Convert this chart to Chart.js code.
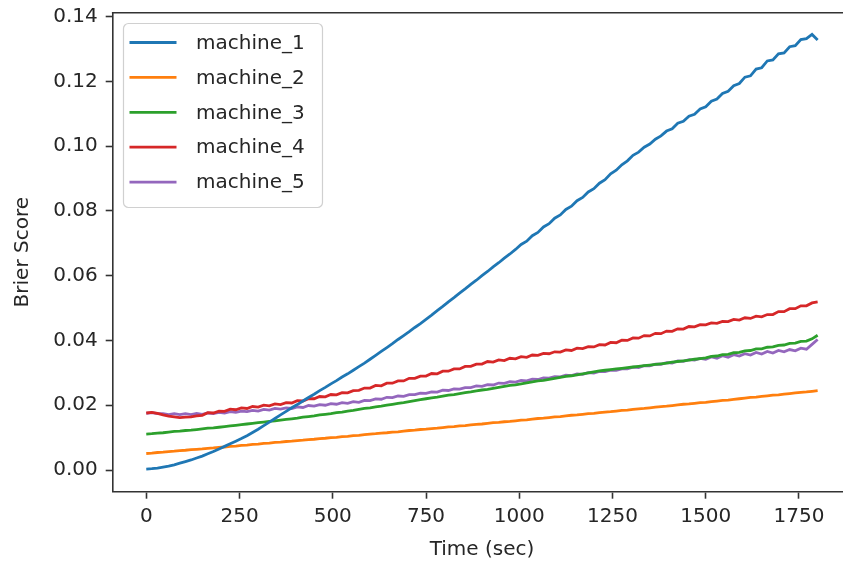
<!DOCTYPE html>
<html>
<head>
<meta charset="utf-8">
<script src="https://cdn.jsdelivr.net/npm/chart.js@4/dist/chart.umd.min.js"></script>
<style>
  html, body { margin: 0; padding: 0; background: #fff; overflow: hidden; }
  #wrap { width: 860px; height: 567px; }
</style>
</head>
<body>
<div id="wrap"><canvas id="c" width="860" height="567"></canvas></div>
<script>
// Elapsed time of each sample, in seconds
const times = [0,15,30,45,60,75,90,105,120,135,150,165,180,195,210,225,240,255,270,285,
  300,315,330,345,360,375,390,405,420,435,450,465,480,495,510,525,540,555,570,585,
  600,615,630,645,660,675,690,705,720,735,750,765,780,795,810,825,840,855,870,885,
  900,915,930,945,960,975,990,1005,1020,1035,1050,1065,1080,1095,1110,1125,1140,1155,1170,1185,
  1200,1215,1230,1245,1260,1275,1290,1305,1320,1335,1350,1365,1380,1395,1410,1425,1440,1455,1470,1485,
  1500,1515,1530,1545,1560,1575,1590,1605,1620,1635,1650,1665,1680,1695,1710,1725,1740,1755,1770,1785,
  1800];

// Brier score per machine
const machine1 = [0.0003,0.0004,0.0006,0.0009,0.0012,0.0016,0.0021,0.0026,0.0031,0.0037,
  0.0043,0.0050,0.0057,0.0065,0.0073,0.0081,0.0089,0.0097,0.0106,0.0116,
  0.0126,0.0137,0.0148,0.0159,0.0170,0.0181,0.0192,0.0202,0.0213,0.0224,
  0.0234,0.0245,0.0255,0.0266,0.0276,0.0287,0.0297,0.0308,0.0319,0.0330,
  0.0342,0.0354,0.0366,0.0378,0.0390,0.0403,0.0415,0.0427,0.0440,0.0452,
  0.0465,0.0478,0.0492,0.0505,0.0519,0.0532,0.0546,0.0559,0.0573,0.0586,
  0.0600,0.0613,0.0627,0.0640,0.0654,0.0667,0.0681,0.06965,0.07065,0.07235,
  0.07335,0.07505,0.07605,0.07775,0.07875,0.08045,0.08145,0.08315,0.08415,0.08585,
  0.08685,0.08855,0.08965,0.09145,0.09255,0.09425,0.09545,0.09715,0.09815,0.09965,
  0.10065,0.10215,0.10315,0.10465,0.10535,0.10705,0.10765,0.10925,0.10985,0.11145,
  0.11215,0.11385,0.11455,0.11625,0.11695,0.11865,0.11935,0.1213,0.1217,0.1238,
  0.1242,0.1263,0.1266,0.1285,0.1288,0.1307,0.1310,0.1329,0.1332,0.1345,
  0.1328];

const machine2 = [0.0051,0.0052,0.0054,0.0055,0.0057,0.0058,0.0060,0.0061,0.0063,0.0064,
  0.0065,0.0067,0.0068,0.0070,0.0071,0.0073,0.0074,0.0076,0.0077,0.0079,
  0.0080,0.0082,0.0083,0.0085,0.0086,0.0088,0.0089,0.0091,0.0092,0.0094,
  0.0095,0.0097,0.0098,0.0100,0.0101,0.0103,0.0104,0.0106,0.0107,0.0109,
  0.0111,0.0112,0.0114,0.0115,0.0117,0.0118,0.0120,0.0122,0.0123,0.0125,
  0.0126,0.0128,0.0129,0.0131,0.0133,0.0134,0.0136,0.0137,0.0139,0.0141,
  0.0142,0.0144,0.0146,0.0147,0.0149,0.0150,0.0152,0.0154,0.0155,0.0157,
  0.0159,0.0160,0.0162,0.0164,0.0165,0.0167,0.0169,0.0170,0.0172,0.0174,
  0.0175,0.0177,0.0179,0.0180,0.0182,0.0184,0.0185,0.0187,0.0189,0.0190,
  0.0192,0.0194,0.0196,0.0197,0.0199,0.0201,0.0203,0.0204,0.0206,0.0208,
  0.0209,0.0211,0.0213,0.0215,0.0216,0.0218,0.0220,0.0222,0.0224,0.0225,
  0.0227,0.0229,0.0231,0.0232,0.0234,0.0236,0.0238,0.0240,0.0241,0.0243,
  0.0245];

const machine3 = [0.0111,0.0112,0.0114,0.0115,0.0117,0.0119,0.0120,0.0122,0.0123,0.0125,
  0.0127,0.0129,0.0130,0.0132,0.0134,0.0136,0.0138,0.0140,0.0142,0.0144,
  0.0146,0.0148,0.0150,0.0152,0.0154,0.0156,0.0158,0.0160,0.0163,0.0165,
  0.0167,0.0170,0.0172,0.0174,0.0177,0.0179,0.0182,0.0184,0.0187,0.0190,
  0.0192,0.0195,0.0197,0.0200,0.0203,0.0206,0.0208,0.0211,0.0214,0.0217,
  0.0220,0.0223,0.0225,0.0228,0.0231,0.0233,0.0236,0.0239,0.0241,0.0244,
  0.0247,0.0249,0.0252,0.0255,0.0258,0.0261,0.0263,0.0266,0.0269,0.0272,
  0.0275,0.0277,0.0280,0.0283,0.0286,0.0289,0.0291,0.0294,0.0297,0.0300,
  0.0303,0.0306,0.0308,0.0310,0.0312,0.0314,0.0316,0.0318,0.0320,0.0322,
  0.0324,0.0326,0.0328,0.0330,0.0333,0.0335,0.0337,0.0339,0.0342,0.0344,
  0.0346,0.0351,0.0352,0.0356,0.0357,0.0362,0.0363,0.0368,0.0369,0.0374,
  0.0374,0.0379,0.0380,0.0385,0.0386,0.0391,0.0392,0.0397,0.0398,0.0405,
  0.0416];

const machine4 = [0.0176,0.0178,0.0175,0.0170,0.0166,0.0164,0.0162,0.0163,0.0164,0.0167,
  0.0169,0.0177,0.0176,0.0182,0.0181,0.0188,0.0186,0.0192,0.0190,0.0196,
  0.0194,0.0200,0.0198,0.0204,0.0202,0.0208,0.0207,0.0214,0.0213,0.0220,
  0.0220,0.0227,0.0226,0.0233,0.0232,0.0239,0.0238,0.0245,0.0246,0.0253,
  0.0253,0.0261,0.0260,0.0268,0.0268,0.0275,0.0275,0.0283,0.0283,0.0290,
  0.0290,0.0298,0.0297,0.0305,0.0305,0.0312,0.0312,0.0320,0.0320,0.0327,
  0.0327,0.0335,0.0333,0.0340,0.0338,0.0345,0.0343,0.0350,0.0348,0.0355,
  0.0354,0.0360,0.0359,0.0365,0.0364,0.0371,0.0369,0.0376,0.0375,0.0381,
  0.0380,0.0387,0.0386,0.0394,0.0393,0.0401,0.0400,0.0408,0.0407,0.0415,
  0.0414,0.0422,0.0421,0.0429,0.0428,0.0436,0.0435,0.0443,0.0442,0.0449,
  0.0448,0.0454,0.0453,0.0459,0.0458,0.0465,0.0463,0.0470,0.0468,0.0475,
  0.0473,0.0480,0.0480,0.0489,0.0489,0.0498,0.0498,0.0507,0.0507,0.0516,
  0.0519];

const machine5 = [0.0175,0.0177,0.0174,0.0174,0.0171,0.0174,0.0171,0.0174,0.0171,0.0175,
  0.0172,0.0176,0.0174,0.0178,0.0176,0.0180,0.0178,0.0182,0.0180,0.0184,
  0.0182,0.0187,0.0185,0.0190,0.0188,0.0192,0.0190,0.0195,0.0193,0.0199,
  0.0197,0.0202,0.0200,0.0205,0.0203,0.0208,0.0206,0.0211,0.0209,0.0215,
  0.02145,0.02195,0.02185,0.02245,0.02235,0.02285,0.02275,0.02325,0.02325,0.02375,
  0.02365,0.02415,0.02405,0.02465,0.02455,0.02505,0.02495,0.02545,0.02545,0.02595,
  0.02585,0.02635,0.02625,0.02685,0.02675,0.02725,0.02715,0.02765,0.02755,0.02805,
  0.02795,0.02845,0.02835,0.02885,0.02875,0.02925,0.02915,0.02965,0.02955,0.03005,
  0.02995,0.03045,0.03035,0.03085,0.03075,0.03125,0.03125,0.03175,0.03165,0.03225,
  0.03215,0.03265,0.03265,0.03315,0.03305,0.03365,0.03355,0.03405,0.03395,0.03445,
  0.0342,0.0349,0.0345,0.0353,0.0348,0.0356,0.0352,0.0359,0.0355,0.0363,
  0.0358,0.0366,0.0361,0.0369,0.0365,0.0372,0.0368,0.0376,0.0373,0.0388,
  0.0403];

const seriesNames = ['machine_1','machine_2','machine_3','machine_4','machine_5'];
const seriesColors = ['#1f77b4','#ff7f0e','#2ca02c','#d62728','#9467bd'];
const xTicks = [0,250,500,750,1000,1250,1500,1750];
const yTicks = [0.00,0.02,0.04,0.06,0.08,0.10,0.12,0.14];

const FONT = { family: "'DejaVu Sans', sans-serif", size: 20 };
const INK = '#262626';
const SPINE = '#333333';

const allSeries = [machine1, machine2, machine3, machine4, machine5];
const datasets = allSeries.map((vals, k) => ({
  label: seriesNames[k],
  data: vals.map((v, i) => ({ x: times[i], y: v })),
  borderColor: seriesColors[k],
  backgroundColor: seriesColors[k],
  borderWidth: 2.8,
  pointRadius: 0,
  tension: 0,
  fill: false
}));

// Top spine (runs off the right edge) plus a framed legend box over the lines
const framePlugin = {
  id: 'frame',
  afterDatasetsDraw(chart) {
    const { ctx, chartArea: a } = chart;
    ctx.save();
    ctx.strokeStyle = SPINE;
    ctx.lineWidth = 1.6;
    ctx.beginPath();
    ctx.moveTo(a.left - 0.8, a.top);
    ctx.lineTo(chart.width, a.top);
    ctx.stroke();

    // legend
    const bx = 123, by = 23, bw = 199, bh = 184, r = 5;
    ctx.beginPath();
    ctx.roundRect(bx + 0.5, by + 0.5, bw, bh, r);
    ctx.fillStyle = 'rgba(255,255,255,0.8)';
    ctx.fill();
    ctx.strokeStyle = '#d0d0d0';
    ctx.lineWidth = 1.2;
    ctx.stroke();

    ctx.font = `${FONT.size}px ${FONT.family}`;
    ctx.textBaseline = 'middle';
    ctx.textAlign = 'left';
    chart.data.datasets.forEach((ds, k) => {
      const y = 42.5 + k * 34.9;
      ctx.strokeStyle = ds.borderColor;
      ctx.lineWidth = 2.8;
      ctx.beginPath();
      ctx.moveTo(129.5, y);
      ctx.lineTo(176.5, y);
      ctx.stroke();
      ctx.fillStyle = INK;
      ctx.fillText(ds.label, 196, y + 1);
    });
    ctx.restore();
  }
};

new Chart(document.getElementById('c'), {
  type: 'line',
  data: { datasets },
  options: {
    responsive: false,
    animation: false,
    events: [],
    layout: { padding: { top: 12.7, right: 8.8, left: 0, bottom: 0 } },
    plugins: { legend: { display: false }, tooltip: { enabled: false } },
    scales: {
      x: {
        type: 'linear',
        min: -90,
        max: 1890,
        afterBuildTicks: s => { s.ticks = xTicks.map(v => ({ value: v })); },
        afterFit: s => { s.height = 75.3; s.paddingLeft = 0; s.paddingRight = 0; },
        ticks: { font: FONT, color: INK, padding: 6, maxRotation: 0, autoSkip: false,
                 callback: v => String(v) },
        grid: { drawOnChartArea: false, drawTicks: true, tickLength: 7, tickColor: SPINE, tickWidth: 1.6 },
        border: { display: true, color: SPINE, width: 1.6 },
        title: { display: true, text: 'Time (sec)', font: FONT, color: INK, padding: { top: 0, bottom: 5 } }
      },
      y: {
        type: 'linear',
        min: -0.0067,
        max: 0.1412,
        afterBuildTicks: s => { s.ticks = yTicks.map(v => ({ value: v })); },
        afterFit: s => { s.width = 112.7; s.paddingTop = 0; s.paddingBottom = 0; },
        ticks: { font: FONT, color: INK, padding: 8, autoSkip: false,
                 callback: v => Number(v).toFixed(2) },
        grid: { drawOnChartArea: false, drawTicks: true, tickLength: 7, tickColor: SPINE, tickWidth: 1.6 },
        border: { display: true, color: SPINE, width: 1.6 },
        title: { display: true, text: 'Brier Score', font: FONT, color: INK, padding: { top: 11, bottom: 0 } }
      }
    }
  },
  plugins: [framePlugin]
});
</script>
</body>
</html>
